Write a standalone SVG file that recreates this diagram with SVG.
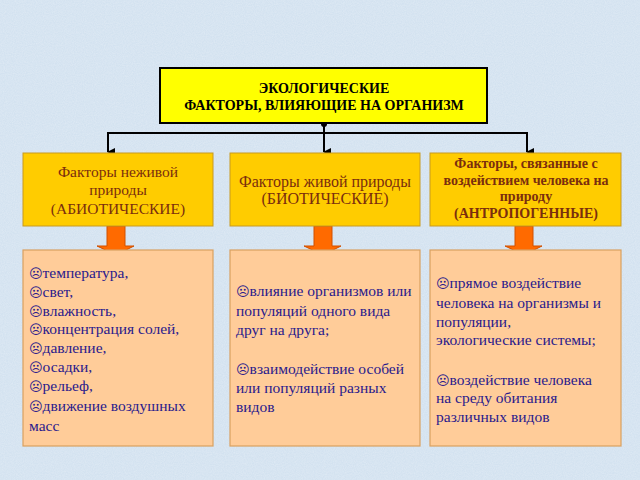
<svg xmlns="http://www.w3.org/2000/svg" width="640" height="480" viewBox="0 0 640 480">
<defs>
<style>
.t{font-family:"Liberation Serif","Times New Roman",serif;}
.mid{fill:#FFCC00;stroke:#C89A20;stroke-width:1}
.mt{fill:#7A2E0E;font-size:15.5px;text-anchor:middle}
.mb{font-size:14px;font-weight:bold}
.bot{fill:#FFCC99;stroke:#D9A060;stroke-width:1.2}
.bt{fill:#2A1A8C;font-size:15.5px}
.ic{font-family:"DejaVu Sans",sans-serif;font-size:13px}
.conn{stroke:#000;stroke-width:2;fill:none}
.arr{fill:#FF6A00;stroke:#D05000;stroke-width:1}
</style>
<marker id="ah" markerWidth="8" markerHeight="8" refX="4" refY="7" orient="auto" markerUnits="userSpaceOnUse">
<path d="M0,0 L8,0 L4,8 Z" fill="#000"/>
</marker>
<filter id="noise" x="0" y="0" width="100%" height="100%">
<feTurbulence type="fractalNoise" baseFrequency="0.9" numOctaves="2" seed="3" result="n"/>
<feColorMatrix in="n" type="matrix" values="0 0 0 0 1  0 0 0 0 1  0 0 0 0 1  0 0 0 0.6 -0.15"/>
</filter>
</defs>
<rect x="0" y="0" width="640" height="480" fill="#D3E2F0"/>
<rect x="0" y="0" width="640" height="480" filter="url(#noise)" opacity="0.6"/>

<g id="connectors">
<circle cx="324" cy="124" r="3" fill="#000"/>
<line class="conn" x1="324" y1="124" x2="324" y2="152" marker-end="url(#ah)"/>
<polyline class="conn" points="108,133 527,133"/>
<line class="conn" x1="108" y1="132" x2="108" y2="152" marker-end="url(#ah)"/>
<line class="conn" x1="527" y1="132" x2="527" y2="152" marker-end="url(#ah)"/>
<path class="arr" d="M107,226 L125,226 L125,246 L134,246 L116,255 L97,246 L107,246 Z"/>
<path class="arr" d="M314,226 L332,226 L332,246 L341,246 L323,255 L304,246 L314,246 Z"/>
<path class="arr" d="M515,226 L533,226 L533,246 L542,246 L524,255 L505,246 L515,246 Z"/>
</g>

<g id="top">
<rect x="160" y="68" width="327" height="55" fill="#FFFF00" stroke="#000" stroke-width="2"/>
<text class="t" x="324" y="93" font-size="14" font-weight="bold" text-anchor="middle" fill="#000">ЭКОЛОГИЧЕСКИЕ</text>
<text class="t" x="324" y="110" font-size="14" font-weight="bold" text-anchor="middle" fill="#000">ФАКТОРЫ, ВЛИЯЮЩИЕ НА ОРГАНИЗМ</text>
</g>

<g id="abiotic">
<rect class="mid" x="23" y="153" width="190" height="73"/>
<text class="t mt" x="118" y="177">Факторы неживой</text>
<text class="t mt" x="118" y="195">природы</text>
<text class="t mt" x="118" y="214">(АБИОТИЧЕСКИЕ)</text>
</g>

<g id="biotic">
<rect class="mid" x="230" y="153" width="190" height="73"/>
<text class="t mt" x="325" y="187" style="font-size:16px">Факторы живой природы</text>
<text class="t mt" x="325" y="204" style="font-size:16px">(БИОТИЧЕСКИЕ)</text>
</g>

<g id="anthropogenic">
<rect class="mid" x="430" y="153" width="191" height="73"/>
<text class="t mt mb" x="526" y="168">Факторы, связанные с</text>
<text class="t mt mb" x="526" y="185">воздействием человека на</text>
<text class="t mt mb" x="526" y="201">природу</text>
<text class="t mt mb" x="526" y="218">(АНТРОПОГЕННЫЕ)</text>
</g>

<g id="abiotic-list">
<rect class="bot" x="23" y="250" width="190" height="196"/>
<text class="t bt" x="29" y="278"><tspan class="ic">☹</tspan>температура,</text>
<text class="t bt" x="29" y="297"><tspan class="ic">☹</tspan>свет,</text>
<text class="t bt" x="29" y="316"><tspan class="ic">☹</tspan>влажность,</text>
<text class="t bt" x="29" y="334"><tspan class="ic">☹</tspan>концентрация солей,</text>
<text class="t bt" x="29" y="353"><tspan class="ic">☹</tspan>давление,</text>
<text class="t bt" x="29" y="372"><tspan class="ic">☹</tspan>осадки,</text>
<text class="t bt" x="29" y="391"><tspan class="ic">☹</tspan>рельеф,</text>
<text class="t bt" x="29" y="411"><tspan class="ic">☹</tspan>движение воздушных</text>
<text class="t bt" x="29" y="431">масс</text>
</g>

<g id="biotic-list">
<rect class="bot" x="230" y="250" width="190" height="196"/>
<text class="t bt" x="236" y="296"><tspan class="ic">☹</tspan>влияние организмов или</text>
<text class="t bt" x="236" y="316">популяций одного вида</text>
<text class="t bt" x="236" y="335">друг на друга;</text>
<text class="t bt" x="236" y="374"><tspan class="ic">☹</tspan>взаимодействие особей</text>
<text class="t bt" x="236" y="393">или популяций разных</text>
<text class="t bt" x="236" y="412">видов</text>
</g>

<g id="anthropogenic-list">
<rect class="bot" x="430" y="250" width="191" height="196"/>
<text class="t bt" x="436" y="288"><tspan class="ic">☹</tspan>прямое воздействие</text>
<text class="t bt" x="436" y="308">человека на организмы и</text>
<text class="t bt" x="436" y="327">популяции,</text>
<text class="t bt" x="436" y="345">экологические системы;</text>
<text class="t bt" x="436" y="385"><tspan class="ic">☹</tspan>воздействие человека</text>
<text class="t bt" x="436" y="403">на среду обитания</text>
<text class="t bt" x="436" y="422">различных видов</text>
</g>
</svg>
